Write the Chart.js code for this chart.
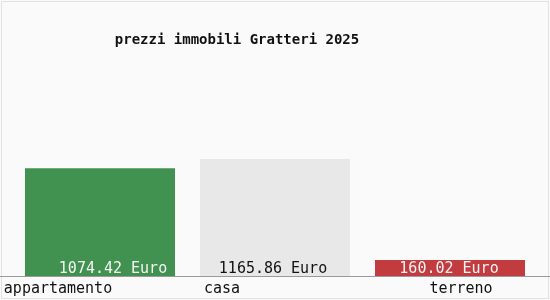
<!DOCTYPE html>
<html>
<head>
<meta charset="utf-8">
<script src="https://cdn.jsdelivr.net/npm/chart.js@4/dist/chart.umd.min.js"></script>
<style>
html,body{margin:0;padding:0;background:#fafafa;}
#wrap{width:550px;height:300px;position:relative;}
</style>
</head>
<body>
<div id="wrap"><canvas id="c" width="550" height="300"></canvas></div>
<script>
const chartTitle = "prezzi immobili Gratteri 2025";
const categories = ["appartamento", "casa", "terreno"];
const prices = [1074.42, 1165.86, 160.02];
const unit = "Euro";

const barColors = ["#419150", "#e8e8e8", "#c23b3f"];
const valueTextColors = ["#f4f4f4", "#111111", "#f4f4f4"];
const valueOffsets = [13, -2, -1];
const labelOffsets = [-42, -53, 11];

const overlay = {
  id: "overlay",
  beforeDraw(chart) {
    const ctx = chart.ctx;
    ctx.save();
    ctx.fillStyle = "#fafafa";
    ctx.fillRect(0, 0, chart.width, chart.height);
    ctx.strokeStyle = "#e2e2e2";
    ctx.lineWidth = 1;
    ctx.strokeRect(1.5, 1.5, chart.width - 3, chart.height - 3);
    ctx.restore();
  },
  afterDraw(chart) {
    const ctx = chart.ctx;
    const area = chart.chartArea;
    const xs = chart.scales.x;
    ctx.save();
    // title
    ctx.font = "bold 14px 'DejaVu Sans Mono', monospace";
    ctx.fillStyle = "#111";
    ctx.textAlign = "center";
    ctx.textBaseline = "middle";
    ctx.fillText(chartTitle, 237, 40);
    // axis line
    ctx.strokeStyle = "#9a9a9a";
    ctx.lineWidth = 1;
    ctx.beginPath();
    ctx.moveTo(0, area.bottom + 0.5);
    ctx.lineTo(chart.width, area.bottom + 0.5);
    ctx.stroke();
    // value labels
    const meta = chart.getDatasetMeta(0);
    ctx.font = "15px 'DejaVu Sans Mono', monospace";
    ctx.textBaseline = "alphabetic";
    meta.data.forEach((bar, i) => {
      ctx.fillStyle = valueTextColors[i];
      ctx.textAlign = "center";
      ctx.fillText(prices[i].toFixed(2) + " " + unit, bar.x + valueOffsets[i], area.bottom - 3);
    });
    // category labels
    ctx.fillStyle = "#111";
    categories.forEach((c, i) => {
      ctx.textAlign = "center";
      ctx.fillText(c, xs.getPixelForValue(i) + labelOffsets[i], 293);
    });
    ctx.restore();
  }
};

new Chart(document.getElementById("c"), {
  type: "bar",
  data: {
    labels: categories,
    datasets: [{
      data: prices,
      backgroundColor: barColors,
      borderWidth: 0,
      categoryPercentage: 1,
      barPercentage: 150 / 175
    }]
  },
  options: {
    responsive: false,
    animation: false,
    devicePixelRatio: 1,
    layout: { padding: { left: 12.5, right: 12.5, top: 145.5, bottom: 24 } },
    plugins: { legend: { display: false }, title: { display: false }, tooltip: { enabled: false } },
    scales: {
      x: { display: false },
      y: { display: false, min: 0, max: 1300 }
    }
  },
  plugins: [overlay]
});
</script>
</body>
</html>
